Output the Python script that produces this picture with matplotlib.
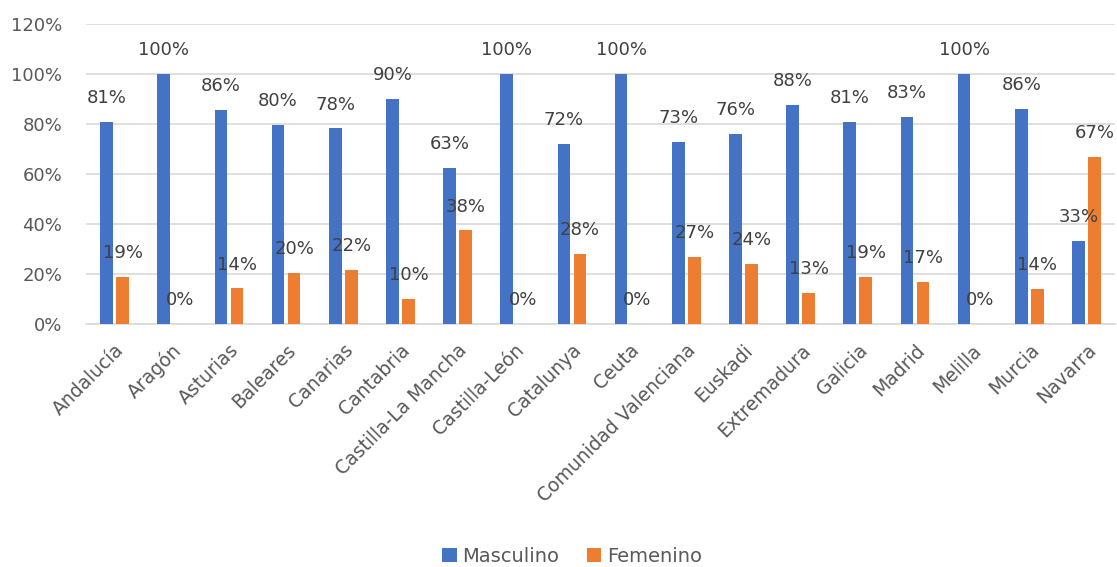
import matplotlib.pyplot as plt
import numpy as np
from matplotlib.ticker import FuncFormatter

regiones = ["Andalucía", "Aragón", "Asturias", "Baleares", "Canarias", "Cantabria",
            "Castilla-La Mancha", "Castilla-León", "Catalunya", "Ceuta",
            "Comunidad Valenciana", "Euskadi", "Extremadura", "Galicia", "Madrid",
            "Melilla", "Murcia", "Navarra"]
masculino = [81, 100, 85.7, 79.6, 78.3, 90, 62.5, 100, 72, 100, 73, 76, 87.5, 81, 83, 100, 86, 33.3]
femenino = [19, 0, 14.3, 20.4, 21.7, 10, 37.5, 0, 28, 0, 27, 24, 12.5, 19, 17, 0, 14, 66.7]

azul = "#4472C4"
naranja = "#ED7D31"
gris_txt = "#595959"

def etiqueta(v):
    return f"{int(v + 0.5)}%"

fig = plt.figure(figsize=(11.17, 5.67), dpi=100)
ax = fig.add_axes([86 / 1117, 1 - 324 / 567, (1115 - 86) / 1117, 300 / 567])

x = np.arange(len(regiones))
ancho = 0.22
desp = 0.14

b1 = ax.bar(x - desp, masculino, ancho, color=azul, label="Masculino", zorder=3)
b2 = ax.bar(x + desp, femenino, ancho, color=naranja, label="Femenino", zorder=3)

for barras, vals in [(b1, masculino), (b2, femenino)]:
    for b, v in zip(barras, vals):
        ax.annotate(etiqueta(v), (b.get_x() + b.get_width() / 2, v),
                    xytext=(0, 13.5), textcoords="offset points",
                    ha="center", va="baseline", fontsize=13, color="#404040")

ax.set_xlim(-0.5, len(regiones) - 0.5)
ax.set_ylim(0, 120)
ax.set_yticks(range(0, 121, 20))
ax.yaxis.set_major_formatter(FuncFormatter(lambda v, p: f"{int(v)}%"))
ax.grid(axis="y", color="#D9D9D9", linewidth=1.2, zorder=0)
for s in ["top", "right", "left"]:
    ax.spines[s].set_visible(False)
ax.spines["bottom"].set_color("#D9D9D9")
ax.spines["bottom"].set_linewidth(1.2)
ax.tick_params(axis="both", length=0, labelsize=13, colors=gris_txt)
ax.tick_params(axis="y", pad=17)
ax.tick_params(axis="x", pad=12, labelsize=13.5)
ax.set_xticks(x)
ax.set_xticklabels(regiones, rotation=45, ha="right", rotation_mode="anchor")

fig.legend(handles=[b1, b2], loc="center", bbox_to_anchor=(572 / 1117, 1 - 556 / 567),
           ncol=2, frameon=False, fontsize=14, labelcolor=gris_txt,
           handlelength=0.75, handleheight=0.75, handletextpad=0.3, columnspacing=1.4)

plt.savefig("out.png", dpi=100)
